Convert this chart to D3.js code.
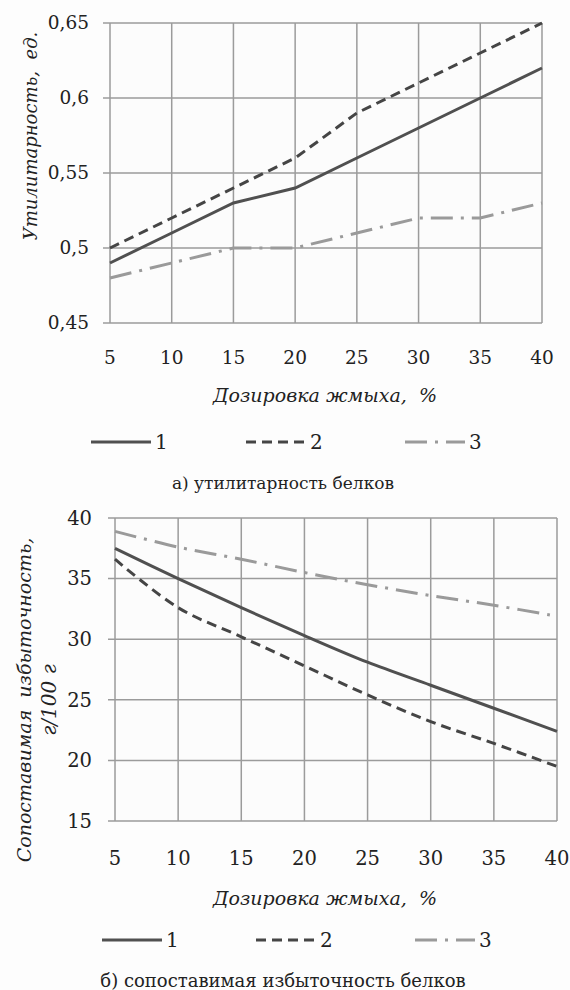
<!DOCTYPE html>
<html>
<head>
<meta charset="utf-8">
<script src="https://cdn.jsdelivr.net/npm/d3@7"></script>
<style>
body{margin:0;background:#fdfdfd;}
</style>
</head>
<body>
<svg id="basicSVG" width="570" height="990"></svg>
<script>
// дозировка жмыха, %
var dose = [5,10,15,20,25,30,35,40];

// а) утилитарность белков
var utilTicks = [0.45,0.5,0.55,0.6,0.65];
var util1 = [0.49,0.51,0.53,0.54,0.56,0.58,0.60,0.62];
var util2 = [0.50,0.52,0.54,0.56,0.59,0.61,0.63,0.65];
var util3 = [0.48,0.49,0.50,0.50,0.51,0.52,0.52,0.53];

// б) сопоставимая избыточность
var redTicks = [15,20,25,30,35,40];
var red1 = [37.5,35.0,32.6,30.3,28.1,26.2,24.3,22.4];
var red2 = [36.6,32.6,30.2,27.8,25.4,23.2,21.4,19.5];
var red3 = [38.9,37.6,36.6,35.5,34.5,33.6,32.8,31.9];

var seriesNames = ["1","2","3"];
var lineColor = ["#505050","#454545","#9a9a9a"];
var lineDash = ["none","10,6","22,8,3,8"];
var fontName = "'DejaVu Serif', serif";

var svg = d3.select("#basicSVG");

function drawChart(cfg)
{
	var g = svg.append("g");
	var x = d3.scaleLinear().domain([5,40]).range([cfg.left,cfg.right]);
	var y = d3.scaleLinear().domain(cfg.domain).range([cfg.bottom,cfg.top]);

	g.append("rect").attr("x",cfg.left).attr("y",cfg.top)
		.attr("width",cfg.right-cfg.left).attr("height",cfg.bottom-cfg.top).attr("fill","#fcfcfc");

	//сетка
	g.selectAll(".vg").data(dose).enter().append("line")
		.attr("x1",d=>x(d)).attr("x2",d=>x(d)).attr("y1",cfg.top).attr("y2",cfg.bottom)
		.attr("stroke","#9b9b9b").attr("stroke-width",1.5);
	g.selectAll(".hg").data(cfg.ticks).enter().append("line")
		.attr("x1",cfg.left-7).attr("x2",cfg.right).attr("y1",d=>y(d)).attr("y2",d=>y(d))
		.attr("stroke","#9b9b9b").attr("stroke-width",1.5);

	//подписи осей
	g.selectAll(".yl").data(cfg.ticks).enter().append("text")
		.attr("x",cfg.ylx).attr("y",d=>y(d)).attr("dy","0.35em")
		.attr("text-anchor","end").attr("font-size",cfg.fs).style("font-family",fontName).attr("fill","#222")
		.text(cfg.fmt);
	g.selectAll(".xl").data(dose).enter().append("text")
		.attr("x",d=>x(d)).attr("y",cfg.xly).attr("dy","0.35em")
		.attr("text-anchor","middle").attr("font-size",cfg.fs).style("font-family",fontName).attr("fill","#222")
		.text(d=>d);

	g.append("text").attr("x",325).attr("y",cfg.xty).attr("dy","0.35em")
		.attr("text-anchor","middle").attr("font-size",19).attr("font-style","italic")
		.style("font-family",fontName).attr("fill","#222")
		.attr("xml:space","preserve").text("Дозировка жмыха,  %");

	for(var i in cfg.ytitle)
	{
		g.append("text").attr("transform","translate("+cfg.ytx[i]+","+cfg.yty+") rotate(-90)")
			.attr("dy","0.35em").attr("text-anchor","middle").attr("font-size",cfg.ytfs[i])
			.attr("font-style","italic").style("font-family",fontName).attr("fill","#222")
			.attr("xml:space","preserve").text(cfg.ytitle[i]);
	}

	//линии
	var line = d3.line().x((d,i)=>x(dose[i])).y(d=>y(d)).curve(cfg.curve);
	for(var s=0;s<cfg.series.length;s++)
	{
		g.append("path").attr("d",line(cfg.series[s])).attr("fill","none")
			.attr("stroke",lineColor[s]).attr("stroke-width",3)
			.attr("stroke-dasharray",lineDash[s]);
	}

	//легенда
	var ly = cfg.legY;
	for(var s=0;s<3;s++)
	{
		var lx = cfg.legX[s];
		g.append("line").attr("x1",lx).attr("x2",lx+60).attr("y1",ly).attr("y2",ly)
			.attr("stroke",lineColor[s]).attr("stroke-width",3).attr("stroke-dasharray",lineDash[s]);
		g.append("text").attr("x",lx+64).attr("y",ly).attr("dy","0.35em")
			.attr("font-size",20).style("font-family",fontName).attr("fill","#222").text(seriesNames[s]);
	}

	g.append("text").attr("x",283).attr("y",cfg.capY).attr("dy","0.35em")
		.attr("text-anchor","middle").attr("font-size",cfg.capfs).style("font-family",fontName).attr("fill","#222")
		.text(cfg.caption);
}

drawChart({
	left:110,right:542,top:23,bottom:323,
	domain:[0.45,0.65],ticks:utilTicks,fs:18.5,ylx:89,xly:358,xty:395,
	fmt:d=>d3.format(".2~f")(d).replace(".",","),
	series:[util1,util2,util3],curve:d3.curveLinear,
	ytitle:["Утилитарность,  ед."],ytx:[31],yty:136,ytfs:[18],
	legX:[91,246,405],legY:442,
	caption:"а) утилитарность белков",capY:483,capfs:17
});

drawChart({
	left:115,right:557,top:518,bottom:821,
	domain:[15,40],ticks:redTicks,fs:19.5,ylx:92,xly:858,xty:898,
	fmt:d=>d,
	series:[red1,red2,red3],curve:d3.curveCatmullRom.alpha(0.5),
	ytitle:["Сопоставимая  избыточность,","г/100 г"],ytx:[24,49],yty:700,ytfs:[19,20],
	legX:[102,256,415],legY:940,
	caption:"б) сопоставимая избыточность белков",capY:981,capfs:18
});
</script>
</body>
</html>
